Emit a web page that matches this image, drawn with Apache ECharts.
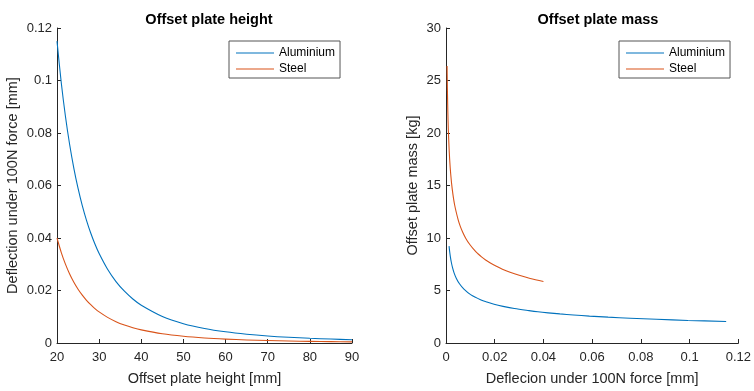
<!DOCTYPE html>
<html><head><meta charset="utf-8">
<script src="https://cdn.jsdelivr.net/npm/echarts@6/dist/echarts.min.js"></script>
<style>html,body{margin:0;padding:0;background:#fff}#c{width:754px;height:391px}</style>
</head><body><div id="c"></div>
<script>
// Offset plate height [mm]
var heights = [20,21,22,23,24,25,26,27,28,29,30,32,34,36,38,40,45,50,55,60,65,70,75,80,85,90];
// Deflection under 100N force [mm]
var alDeflection = [0.1150,0.09934,0.08640,0.07561,0.06655,0.05888,0.05234,0.04674,0.04191,0.03772,0.03407,0.02808,0.02341,0.01972,0.01677,0.01438,0.01010,0.00736,0.00553,0.00426,0.00335,0.00268,0.00218,0.00180,0.00150,0.00126];
var stDeflection = [0.0400,0.03455,0.03005,0.02630,0.02315,0.02048,0.01821,0.01626,0.01458,0.01312,0.01185,0.00977,0.00814,0.00686,0.00583,0.00500,0.00351,0.00256,0.00192,0.00148,0.00117,0.00093,0.00076,0.00063,0.00052,0.00044];
// Offset plate mass [kg]
var alMass = [2.05,2.15,2.26,2.36,2.46,2.56,2.67,2.77,2.87,2.97,3.08,3.28,3.49,3.69,3.90,4.10,4.61,5.13,5.64,6.15,6.66,7.18,7.69,8.20,8.71,9.23];
var stMass = [5.86,6.15,6.45,6.74,7.03,7.33,7.62,7.91,8.20,8.50,8.79,9.38,9.96,10.55,11.13,11.72,13.19,14.65,16.12,17.58,19.05,20.51,21.98,23.44,24.91,26.37];
var seriesNames = ['Aluminium','Steel'];
var titles = ['Offset plate height','Offset plate mass'];

var FONT = 'Liberation Sans';
var AX = '#262626';
var BLUE = '#0072BD', ORANGE = '#D95319';
function zip(a,b){return a.map(function(v,i){return [v,b[i]];});}
function axisBase(extra){
  var o = {
    type:'value',
    axisLine:{show:true,onZero:false,lineStyle:{color:AX,width:1}},
    axisTick:{show:true,inside:true,length:4,lineStyle:{color:AX}},
    splitLine:{show:false},
    nameLocation:'middle',
    nameTextStyle:{color:AX,fontFamily:FONT,fontSize:14.5}
  };
  for (var k in extra) o[k]=extra[k];
  return o;
}
function lbl(margin,f){var o={color:AX,fontFamily:FONT,fontSize:13,margin:margin};if(f)o.formatter=f;return o;}
function fmt(v){return String(Math.round(v*1000)/1000);}
function legendAt(left){
  return {data:seriesNames.map(function(n){return {name:n};}),left:left,top:41,orient:'vertical',
    icon:'rect',backgroundColor:'#fff',borderColor:'#555',borderWidth:1,padding:[5,5,2,7],itemGap:2,itemWidth:38,itemHeight:1,
    textStyle:{fontFamily:FONT,fontSize:12,color:'#000',lineHeight:14}};
}
var chart = echarts.init(document.getElementById('c'),null,{renderer:'canvas'});
chart.setOption({
  animation:false,
  backgroundColor:'#fff',
  title:[
    {text:titles[0],left:204,top:7,textAlign:'center',textStyle:{fontFamily:FONT,fontSize:14.5,fontWeight:'bold',color:'#000'}},
    {text:titles[1],left:593,top:7,textAlign:'center',textStyle:{fontFamily:FONT,fontSize:14.5,fontWeight:'bold',color:'#000'}}
  ],
  grid:[
    {left:57,top:28,width:295,height:319},
    {left:446,top:28,width:295,height:319}
  ],
  xAxis:[
    axisBase({gridIndex:0,min:20,max:90,interval:10,name:'Offset plate height [mm]',nameGap:28,axisLabel:lbl(8)}),
    axisBase({gridIndex:1,min:0,max:0.12,interval:0.02,name:'Deflecion under 100N force [mm]',nameGap:28,axisLabel:lbl(8,fmt)})
  ],
  yAxis:[
    axisBase({gridIndex:0,min:0,max:0.12,interval:0.02,name:'Deflection under 100N force [mm]',nameGap:37,axisLabel:lbl(5,fmt)}),
    axisBase({gridIndex:1,min:0,max:30,interval:5,name:'Offset plate mass [kg]',nameGap:26,axisLabel:lbl(5)})
  ],
  legend:[legendAt(229),legendAt(619)],
  series:[
    {name:seriesNames[0],type:'line',xAxisIndex:0,yAxisIndex:0,data:zip(heights,alDeflection),symbol:'none',smooth:0.3,lineStyle:{color:BLUE,width:1.1},itemStyle:{color:BLUE}},
    {name:seriesNames[1],type:'line',xAxisIndex:0,yAxisIndex:0,data:zip(heights,stDeflection),symbol:'none',smooth:0.3,lineStyle:{color:ORANGE,width:1.1},itemStyle:{color:ORANGE}},
    {name:seriesNames[0],type:'line',xAxisIndex:1,yAxisIndex:1,data:zip(alDeflection,alMass),symbol:'none',smooth:0.3,lineStyle:{color:BLUE,width:1.1},itemStyle:{color:BLUE}},
    {name:seriesNames[1],type:'line',xAxisIndex:1,yAxisIndex:1,data:zip(stDeflection,stMass),symbol:'none',smooth:0.3,lineStyle:{color:ORANGE,width:1.1},itemStyle:{color:ORANGE}}
  ]
});
</script></body></html>
